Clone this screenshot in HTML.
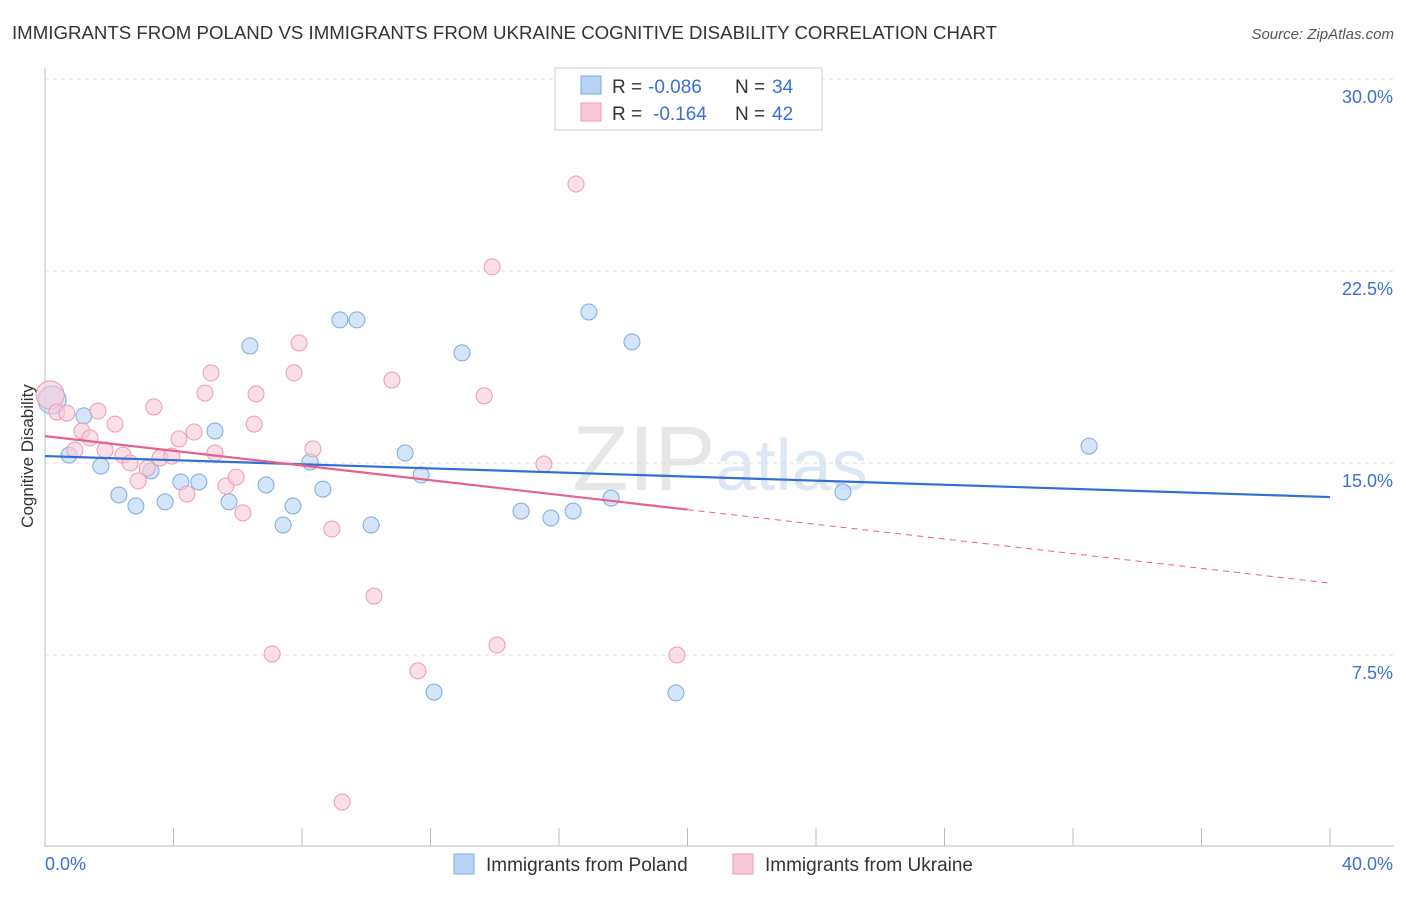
<!DOCTYPE html>
<html><head><meta charset="utf-8"><style>
body{margin:0;background:#fff;font-family:"Liberation Sans",sans-serif;}
svg text{font-family:"Liberation Sans",sans-serif;}
</style></head><body>
<svg id="chart" width="1406" height="892" xmlns="http://www.w3.org/2000/svg">
<text x="12" y="39" font-size="18" fill="#333" textLength="985" lengthAdjust="spacingAndGlyphs">IMMIGRANTS FROM POLAND VS IMMIGRANTS FROM UKRAINE COGNITIVE DISABILITY CORRELATION CHART</text>
<text x="1394" y="39" font-size="15" fill="#555" text-anchor="end" font-style="italic">Source: ZipAtlas.com</text>
<text x="720" y="490" font-size="92" fill="#e6e6e6" text-anchor="middle" font-family="Liberation Serif">ZIP<tspan fill="#dce6f4" font-family="Liberation Sans" font-size="72">atlas</tspan></text>
<g id="grid"></g><g id="axes"></g><g id="marks"></g>
<text transform="translate(33,456) rotate(-90)" font-size="17" fill="#333" text-anchor="middle">Cognitive Disability</text>
<g>
<rect x="555" y="68" width="267" height="62" fill="#fff" stroke="#ccc"/>
<rect x="581" y="76" width="20" height="18" fill="#b9d3f5" stroke="#7fa9e0"/>
<rect x="581" y="103" width="20" height="18" fill="#f9c9d8" stroke="#ec9ab4"/>
<text x="612" y="93" font-size="19" fill="#333">R =</text>
<text x="648" y="93" font-size="19" fill="#3a6fd8">-0.086</text>
<text x="735" y="93" font-size="19" fill="#333">N =</text>
<text x="772" y="93" font-size="19" fill="#3a6fd8">34</text>
<text x="612" y="120" font-size="19" fill="#333">R =</text>
<text x="653" y="120" font-size="19" fill="#3a6fd8">-0.164</text>
<text x="735" y="120" font-size="19" fill="#333">N =</text>
<text x="772" y="120" font-size="19" fill="#3a6fd8">42</text>
</g>
<g>
<rect x="454" y="854" width="20" height="20" fill="#b9d3f5" stroke="#7fa9e0"/>
<text x="486" y="871" font-size="19" fill="#333">Immigrants from Poland</text>
<rect x="733" y="854" width="20" height="20" fill="#f9c9d8" stroke="#ec9ab4"/>
<text x="765" y="871" font-size="19" fill="#333">Immigrants from Ukraine</text>
</g>
</svg>
<script>
const yTicks=[7.5,15,22.5,30];
const yTickLabels=["7.5%","15.0%","22.5%","30.0%"];
const xEndLabels=["0.0%","40.0%"];
const polandX=[0.22,0.75,1.21,1.74,2.30,2.83,3.30,3.74,4.23,4.79,5.29,5.73,6.38,6.88,7.41,7.72,8.25,8.65,9.18,9.71,10.15,11.21,11.71,12.98,12.11,14.82,15.75,16.44,16.93,17.62,18.27,19.64,24.84,32.50];
const polandY=[17.46,15.31,16.84,14.88,13.75,13.32,14.69,13.48,14.26,14.26,16.25,13.48,19.57,14.14,12.58,13.32,15.04,13.98,20.59,20.59,12.58,15.39,14.53,19.30,6.05,13.12,12.85,13.12,20.90,13.63,19.73,6.02,13.87,15.66];
const ukraineX=[0.16,0.37,0.68,0.93,1.15,1.40,1.65,1.87,2.18,2.43,2.65,2.90,3.18,3.39,3.58,3.95,4.17,4.42,4.64,4.98,5.17,5.29,5.63,5.95,6.16,6.51,6.57,7.07,7.75,7.91,8.34,8.93,9.25,10.24,10.80,11.61,13.67,13.92,14.07,15.53,16.53,19.67];
const ukraineY=[17.66,16.99,16.95,15.51,16.25,15.98,17.03,15.51,16.52,15.31,15.0,14.30,14.80,17.19,15.20,15.27,15.94,13.79,16.21,17.73,18.52,15.39,14.10,14.45,13.05,16.52,17.70,7.54,18.52,19.69,15.55,12.42,1.76,9.80,18.24,6.88,17.62,22.66,7.89,14.96,25.90,7.50];
const polandTrend=[15.27,13.67];
const ukraineTrend=[16.05,10.31];
const NS="http://www.w3.org/2000/svg";
const X0=45,X1=1330,Y0=847,Y1=79;
const sx=v=>X0+(v/40)*(X1-X0);
const sy=v=>Y0-(v/30)*(Y0-Y1);
function mk(tag,attrs,parent){const e=document.createElementNS(NS,tag);for(const k in attrs)e.setAttribute(k,attrs[k]);document.getElementById(parent).appendChild(e);return e;}
yTicks.forEach((t,i)=>{
 const g=mk('line',{x1:X0,x2:1394,y1:sy(t),y2:sy(t),stroke:'#dcdcdc','stroke-dasharray':'4,4'},'grid');
 
 
 const l=mk('text',{x:1393,y:sy(t)+24,'font-size':18,fill:'#3a6fd8','text-anchor':'end'},'axes');
 l.textContent=yTickLabels[i];
 
 
});
const ya=mk('line',{x1:X0,x2:X0,y1:68,y2:847,stroke:'#bbb'},'axes');


const xa=mk('line',{x1:X0,x2:1394,y1:846,y2:846,stroke:'#bbb'},'axes');


for(let i=0;i<=10;i++){const t=mk('line',{x1:sx(i*4),x2:sx(i*4),y1:828,y2:846,stroke:'#bbb'},'axes');
 
 }
[[0,'start',45],[40,'end',1393]].forEach((d,i)=>{const t=mk('text',{x:d[2],y:870,'font-size':18,fill:'#3a6fd8','text-anchor':d[1]},'axes');t.textContent=xEndLabels[i];
 
 });
function dots(xs,ys,fill,stroke,name){xs.forEach((x,i)=>{const big=i===0;
 const c=mk('circle',{cx:sx(x),cy:sy(ys[i]),r:big?14:8,fill:fill,'fill-opacity':0.6,stroke:stroke,'stroke-width':1},'marks');
 
 });}
dots(polandX,polandY,'#b9d3f5','#7fa9e0','poland-point');
dots(ukraineX,ukraineY,'#f9c9d8','#ec9ab4','ukraine-point');
const pl=mk('line',{x1:sx(0),y1:sy(polandTrend[0]),x2:sx(40),y2:sy(polandTrend[1]),stroke:'#2f6fd6','stroke-width':2.2},'marks');


const uAt=v=>ukraineTrend[0]+(ukraineTrend[1]-ukraineTrend[0])*v/40;
const us=mk('line',{x1:sx(0),y1:sy(uAt(0)),x2:sx(20),y2:sy(uAt(20)),stroke:'#e8608c','stroke-width':2.2},'marks');


const ud=mk('line',{x1:sx(20),y1:sy(uAt(20)),x2:sx(40),y2:sy(uAt(40)),stroke:'#e8608c','stroke-width':1,'stroke-dasharray':'6,5'},'marks');


</script>
</body></html>
